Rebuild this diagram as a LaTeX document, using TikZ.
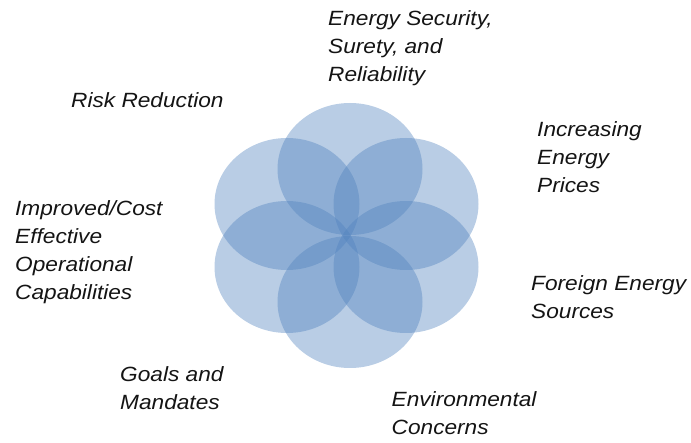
\documentclass[tikz,border=0pt]{standalone}
\usepackage{fontspec}
\setmainfont{Liberation Sans}[FakeStretch=1.1]
\definecolor{petal}{RGB}{79,129,189}
\definecolor{labeltext}{RGB}{20,20,20}
\begin{document}
\begin{tikzpicture}[x=1pt,y=-1pt,
  petalshape/.style={fill=petal,fill opacity=0.4,draw=none},
  lbl/.style={anchor=north west,inner sep=0pt,align=left,text=labeltext,
    font=\fontsize{20.6}{28}\selectfont\itshape}]
\useasboundingbox (0,0) rectangle (691,443);
% petals
\fill[petalshape] (350,169) ellipse [x radius=72.5,y radius=66];
\fill[petalshape] (406,204) ellipse [x radius=72.5,y radius=66];
\fill[petalshape] (406,267) ellipse [x radius=72.5,y radius=66];
\fill[petalshape] (350,302) ellipse [x radius=72.5,y radius=66];
\fill[petalshape] (287,267) ellipse [x radius=72.5,y radius=66];
\fill[petalshape] (287,204) ellipse [x radius=72.5,y radius=66];
% labels (top = first baseline - 15.5)
\node[lbl] (security) at (328,9.5) {\rule{0pt}{15.5pt}Energy Security,\\Surety, and\\Reliability};
\node[lbl] (risk) at (71,92.2) {\rule{0pt}{15.5pt}Risk Reduction};
\node[lbl] (prices) at (537,121.2) {\rule{0pt}{15.5pt}Increasing\\Energy\\Prices};
\node[lbl] (improved) at (15,199.5) {\rule{0pt}{15.5pt}Improved/Cost\\Effective\\Operational\\Capabilities};
\node[lbl] (foreign) at (531,274.5) {\rule{0pt}{15.5pt}Foreign Energy\\Sources};
\node[lbl] (goals) at (120,366.2) {\rule{0pt}{15.5pt}Goals and\\Mandates};
\node[lbl] (environ) at (391.5,391.2) {\rule{0pt}{15.5pt}Environmental\\Concerns};
\end{tikzpicture}
\end{document}
